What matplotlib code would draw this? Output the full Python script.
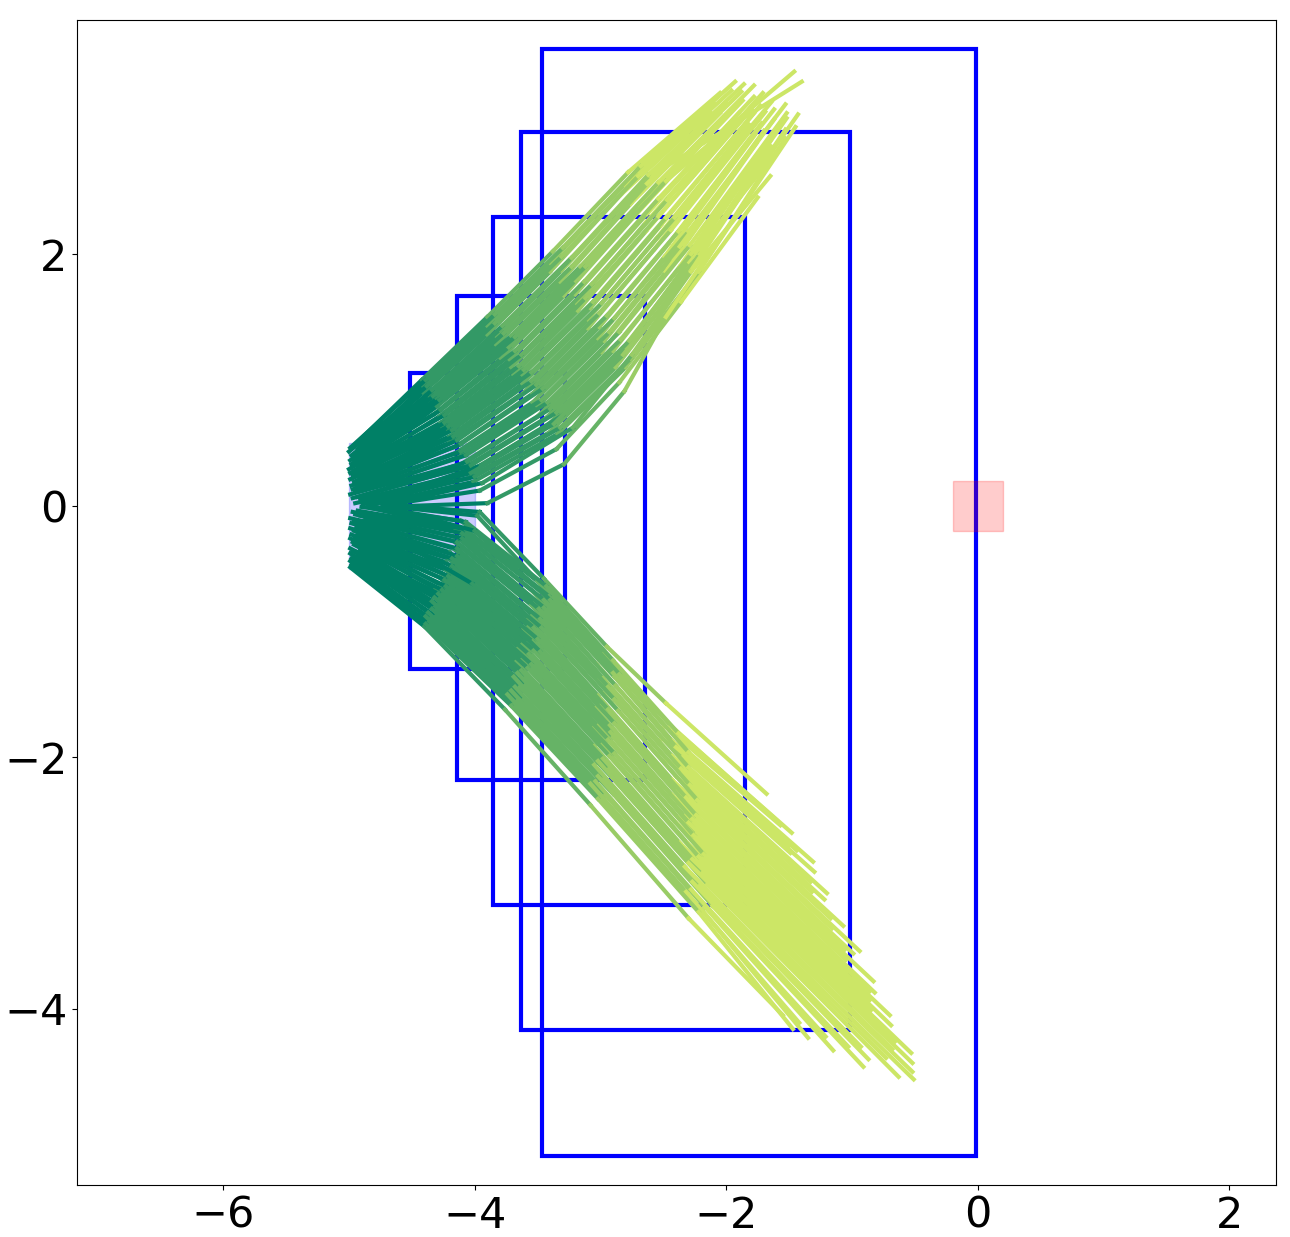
import matplotlib
matplotlib.use("Agg")
import matplotlib.pyplot as plt
from matplotlib.patches import Rectangle

# reachable-set boxes (one per step)
BOX_XMIN = [-4.515, -4.142, -3.856, -3.634, -3.467]
BOX_XMAX = [-3.283, -2.648, -1.852, -1.018, -0.017]
BOX_YMIN = [-1.296, -2.177, -3.171, -4.165, -5.166]
BOX_YMAX = [1.058, 1.670, 2.297, 2.974, 3.626]

# initial set and target
START_XY = (-5.0, -0.5)
START_WH = (1.0, 1.0)
GOAL_XY = (-0.2, -0.2)
GOAL_WH = (0.4, 0.4)

# sampled trajectories, upper branch (6 points each)
UPPER_X = [
    [-4.97, -4.42, -3.90, -3.38, -2.78, -2.05],
    [-4.99, -4.39, -3.84, -3.30, -2.68, -1.93],
    [-4.93, -4.41, -3.90, -3.40, -2.81, -2.10],
    [-5.00, -4.38, -3.84, -3.31, -2.70, -1.96],
    [-4.95, -4.41, -3.90, -3.40, -2.84, -2.13],
    [-4.90, -4.34, -3.78, -3.23, -2.62, -1.86],
    [-4.98, -4.36, -3.83, -3.31, -2.72, -2.00],
    [-4.94, -4.33, -3.77, -3.23, -2.63, -1.88],
    [-4.88, -4.36, -3.83, -3.32, -2.76, -2.05],
    [-4.99, -4.30, -3.71, -3.16, -2.54, -1.78],
    [-4.95, -4.33, -3.78, -3.27, -2.70, -1.97],
    [-4.91, -4.30, -3.73, -3.20, -2.61, -1.87],
    [-4.98, -4.32, -3.79, -3.29, -2.74, -2.04],
    [-4.97, -4.27, -3.68, -3.13, -2.54, -1.78],
    [-4.92, -4.28, -3.72, -3.20, -2.63, -1.90],
    [-5.00, -4.24, -3.63, -3.07, -2.47, -1.71],
    [-4.96, -4.27, -3.71, -3.19, -2.64, -1.92],
    [-4.90, -4.24, -3.65, -3.12, -2.54, -1.80],
    [-4.99, -4.26, -3.69, -3.18, -2.64, -1.92],
    [-4.94, -4.21, -3.61, -3.06, -2.48, -1.73],
    [-4.97, -4.21, -3.62, -3.08, -2.52, -1.78],
    [-4.91, -4.18, -3.55, -2.99, -2.41, -1.64],
    [-4.99, -4.20, -3.62, -3.10, -2.55, -1.82],
    [-4.93, -4.17, -3.55, -3.01, -2.44, -1.69],
    [-4.96, -4.20, -3.61, -3.10, -2.57, -1.86],
    [-4.89, -4.14, -3.51, -2.95, -2.38, -1.62],
    [-4.98, -4.15, -3.54, -3.01, -2.46, -1.72],
    [-4.94, -4.11, -3.46, -2.89, -2.30, -1.53],
    [-4.92, -4.15, -3.54, -3.02, -2.49, -1.77],
    [-4.97, -4.11, -3.47, -2.93, -2.37, -1.62],
    [-4.90, -4.12, -3.50, -2.97, -2.43, -1.70],
    [-4.95, -4.07, -3.42, -2.85, -2.29, -1.52],
    [-4.99, -4.11, -3.50, -2.99, -2.48, -1.76],
    [-4.88, -4.06, -3.40, -2.84, -2.28, -1.52],
    [-4.93, -4.07, -3.43, -2.90, -2.37, -1.63],
    [-4.97, -4.03, -3.35, -2.77, -2.21, -1.43],
    [-4.91, -4.06, -3.42, -2.89, -2.38, -1.65],
    [-4.86, -4.03, -3.37, -2.82, -2.28, -1.53],
    [-4.95, -4.05, -3.41, -2.88, -2.37, -1.65],
    [-4.89, -4.00, -3.32, -2.76, -2.22, -1.45],
    [-4.84, -4.01, -3.34, -2.80, -2.27, -1.53],
    [-4.73, -3.90, -3.29, -2.81, -2.48, -2.06],
    [-4.73, -3.96, -3.35, -2.85, -2.36, -1.75],
    [-4.73, -3.94, -3.22, -2.75, -2.28, -1.65],
    [-4.60, -3.95, -3.30, -2.80, -2.30, -1.58],
    [-4.96, -4.28, -3.68, -3.12, -2.48, -1.46],
    [-4.96, -4.36, -3.80, -3.25, -2.60, -1.40],
]
UPPER_Y = [
    [0.47, 1.00, 1.50, 2.02, 2.65, 3.28],
    [0.46, 1.00, 1.52, 2.05, 2.70, 3.37],
    [0.45, 0.95, 1.43, 1.93, 2.55, 3.20],
    [0.43, 0.95, 1.45, 1.98, 2.62, 3.30],
    [0.42, 0.90, 1.36, 1.86, 2.47, 3.13],
    [0.41, 0.92, 1.43, 1.97, 2.63, 3.35],
    [0.40, 0.87, 1.35, 1.87, 2.50, 3.20],
    [0.39, 0.87, 1.37, 1.90, 2.56, 3.29],
    [0.38, 0.82, 1.28, 1.78, 2.40, 3.12],
    [0.36, 0.85, 1.35, 1.90, 2.57, 3.34],
    [0.35, 0.79, 1.25, 1.76, 2.39, 3.14],
    [0.34, 0.79, 1.26, 1.79, 2.44, 3.22],
    [0.33, 0.73, 1.17, 1.67, 2.29, 3.05],
    [0.32, 0.76, 1.23, 1.78, 2.44, 3.25],
    [0.31, 0.71, 1.16, 1.68, 2.32, 3.12],
    [0.29, 0.72, 1.20, 1.76, 2.43, 3.28],
    [0.28, 0.66, 1.10, 1.61, 2.25, 3.07],
    [0.27, 0.66, 1.11, 1.65, 2.30, 3.15],
    [0.26, 0.62, 1.04, 1.55, 2.18, 3.02],
    [0.25, 0.63, 1.08, 1.62, 2.29, 3.18],
    [0.24, 0.60, 1.04, 1.57, 2.23, 3.12],
    [0.22, 0.60, 1.06, 1.61, 2.29, 3.21],
    [0.21, 0.55, 0.97, 1.48, 2.13, 3.03],
    [0.20, 0.55, 0.99, 1.53, 2.19, 3.13],
    [0.19, 0.50, 0.90, 1.41, 2.04, 2.96],
    [0.18, 0.52, 0.96, 1.51, 2.18, 3.15],
    [0.16, 0.47, 0.89, 1.42, 2.08, 3.04],
    [0.15, 0.49, 0.93, 1.49, 2.18, 3.19],
    [0.14, 0.42, 0.82, 1.33, 1.98, 2.95],
    [0.13, 0.43, 0.84, 1.38, 2.06, 3.07],
    [0.12, 0.39, 0.79, 1.31, 1.97, 2.98],
    [0.11, 0.40, 0.82, 1.38, 2.07, 3.12],
    [0.09, 0.33, 0.71, 1.22, 1.86, 2.88],
    [0.08, 0.35, 0.77, 1.32, 2.00, 3.08],
    [0.07, 0.31, 0.70, 1.23, 1.90, 2.96],
    [0.06, 0.32, 0.74, 1.31, 2.00, 3.11],
    [0.05, 0.26, 0.64, 1.16, 1.82, 2.90],
    [0.04, 0.26, 0.65, 1.20, 1.87, 2.99],
    [0.02, 0.22, 0.58, 1.10, 1.76, 2.86],
    [0.01, 0.23, 0.62, 1.17, 1.86, 3.01],
    [0.00, 0.19, 0.57, 1.10, 1.78, 2.92],
    [-0.01, 0.02, 0.33, 0.91, 1.50, 2.12],
    [0.00, 0.12, 0.45, 0.98, 1.62, 2.45],
    [0.00, 0.18, 0.62, 1.20, 1.86, 2.62],
    [0.10, 0.32, 0.72, 1.26, 1.94, 2.84],
    [0.36, 0.84, 1.34, 1.90, 2.58, 3.45],
    [0.40, 0.90, 1.40, 1.95, 2.62, 3.37],
]

# sampled trajectories, lower branch
LOWER_X = [
    [-4.85, -4.07, -3.43, -2.90, -2.38, -1.48],
    [-4.90, -4.11, -3.49, -2.99, -2.49, -1.57],
    [-4.82, -4.07, -3.41, -2.85, -2.30, -1.31],
    [-4.93, -4.11, -3.48, -2.95, -2.43, -1.44],
    [-4.97, -4.10, -3.45, -2.89, -2.34, -1.30],
    [-4.88, -4.15, -3.54, -3.03, -2.51, -1.49],
    [-4.95, -4.10, -3.45, -2.88, -2.30, -1.20],
    [-4.91, -4.14, -3.52, -2.98, -2.43, -1.33],
    [-4.99, -4.14, -3.49, -2.94, -2.36, -1.22],
    [-4.87, -4.17, -3.55, -3.02, -2.47, -1.32],
    [-4.96, -4.14, -3.48, -2.89, -2.29, -1.07],
    [-4.92, -4.17, -3.54, -2.98, -2.40, -1.17],
    [-4.98, -4.14, -3.47, -2.86, -2.23, -0.94],
    [-4.89, -4.20, -3.57, -3.02, -2.43, -1.16],
    [-4.94, -4.18, -3.53, -2.94, -2.32, -0.99],
    [-4.99, -4.21, -3.57, -3.00, -2.40, -1.06],
    [-4.91, -4.18, -3.50, -2.89, -2.24, -0.83],
    [-4.96, -4.23, -3.61, -3.04, -2.43, -1.05],
    [-4.93, -4.20, -3.54, -2.93, -2.27, -0.82],
    [-4.98, -4.23, -3.57, -2.97, -2.33, -0.86],
    [-4.90, -4.21, -3.53, -2.90, -2.23, -0.70],
    [-4.95, -4.26, -3.62, -3.02, -2.38, -0.86],
    [-4.99, -4.24, -3.57, -2.94, -2.26, -0.69],
    [-4.92, -4.28, -3.65, -3.06, -2.41, -0.85],
    [-4.97, -4.23, -3.55, -2.89, -2.18, -0.53],
    [-4.90, -4.27, -3.62, -2.99, -2.31, -0.66],
    [-4.96, -4.26, -3.58, -2.93, -2.22, -0.52],
    [-4.93, -4.31, -3.67, -3.05, -2.37, -0.68],
    [-4.99, -4.29, -3.63, -2.98, -2.27, -0.52],
    [-4.91, -4.28, -3.60, -2.93, -2.19, -0.51],
    [-4.97, -4.32, -3.66, -3.02, -2.30, -0.73],
    [-4.94, -4.29, -3.60, -2.91, -2.15, -0.63],
    [-4.99, -4.34, -3.69, -3.05, -2.33, -0.93],
    [-4.92, -4.32, -3.64, -2.97, -2.21, -0.87],
    [-4.96, -4.34, -3.68, -3.02, -2.27, -1.03],
    [-4.98, -4.31, -3.61, -2.90, -2.11, -0.91],
    [-4.93, -4.37, -3.71, -3.04, -2.28, -1.21],
    [-4.99, -4.35, -3.66, -2.96, -2.17, -1.15],
    [-4.95, -4.39, -3.74, -3.08, -2.32, -1.42],
    [-4.98, -4.37, -3.69, -2.99, -2.19, -1.35],
    [-4.97, -4.39, -3.71, -3.02, -2.22, -1.47],
    [-4.73, -3.96, -3.45, -2.95, -2.48, -1.68],
    [-4.73, -4.00, -3.40, -2.90, -2.40, -1.50],
    [-4.73, -3.98, -3.50, -2.98, -2.44, -1.60],
    [-4.60, -4.02, -3.48, -2.92, -2.30, -1.05],
    [-4.99, -4.40, -3.76, -3.08, -2.30, -1.55],
]
LOWER_Y = [
    [0.00, -0.13, -0.64, -1.23, -1.81, -2.60],
    [-0.01, -0.12, -0.61, -1.18, -1.75, -2.54],
    [-0.02, -0.19, -0.72, -1.34, -1.96, -2.83],
    [-0.04, -0.18, -0.68, -1.27, -1.87, -2.74],
    [-0.05, -0.22, -0.75, -1.36, -1.99, -2.91],
    [-0.06, -0.19, -0.68, -1.26, -1.85, -2.76],
    [-0.07, -0.26, -0.81, -1.43, -2.08, -3.08],
    [-0.08, -0.25, -0.77, -1.37, -1.99, -2.99],
    [-0.10, -0.29, -0.82, -1.44, -2.09, -3.13],
    [-0.11, -0.28, -0.79, -1.39, -2.02, -3.07],
    [-0.12, -0.34, -0.90, -1.54, -2.22, -3.34],
    [-0.13, -0.34, -0.87, -1.49, -2.15, -3.28],
    [-0.14, -0.40, -0.97, -1.63, -2.34, -3.54],
    [-0.16, -0.37, -0.90, -1.51, -2.18, -3.36],
    [-0.17, -0.42, -0.97, -1.62, -2.32, -3.56],
    [-0.18, -0.42, -0.96, -1.59, -2.27, -3.53],
    [-0.19, -0.48, -1.06, -1.73, -2.46, -3.78],
    [-0.20, -0.45, -0.98, -1.61, -2.30, -3.61],
    [-0.22, -0.51, -1.08, -1.75, -2.49, -3.87],
    [-0.23, -0.51, -1.08, -1.74, -2.47, -3.86],
    [-0.24, -0.56, -1.15, -1.84, -2.60, -4.05],
    [-0.25, -0.54, -1.10, -1.75, -2.48, -3.93],
    [-0.26, -0.59, -1.18, -1.86, -2.62, -4.13],
    [-0.28, -0.57, -1.13, -1.77, -2.51, -4.01],
    [-0.29, -0.64, -1.26, -1.97, -2.77, -4.35],
    [-0.30, -0.63, -1.22, -1.90, -2.68, -4.26],
    [-0.31, -0.67, -1.29, -1.99, -2.79, -4.43],
    [-0.32, -0.66, -1.24, -1.91, -2.68, -4.32],
    [-0.34, -0.70, -1.31, -2.01, -2.81, -4.50],
    [-0.35, -0.74, -1.37, -2.09, -2.92, -4.56],
    [-0.36, -0.73, -1.33, -2.03, -2.84, -4.39],
    [-0.37, -0.79, -1.43, -2.16, -3.01, -4.54],
    [-0.38, -0.76, -1.36, -2.06, -2.87, -4.30],
    [-0.40, -0.81, -1.44, -2.17, -3.02, -4.40],
    [-0.41, -0.82, -1.44, -2.15, -2.99, -4.30],
    [-0.42, -0.88, -1.54, -2.29, -3.18, -4.46],
    [-0.43, -0.85, -1.47, -2.19, -3.05, -4.22],
    [-0.44, -0.90, -1.55, -2.30, -3.19, -4.33],
    [-0.46, -0.88, -1.50, -2.21, -3.07, -4.11],
    [-0.47, -0.93, -1.58, -2.33, -3.22, -4.23],
    [-0.48, -0.94, -1.59, -2.33, -3.23, -4.16],
    [0.01, -0.05, -0.58, -1.12, -1.57, -2.29],
    [0.00, -0.20, -0.75, -1.33, -1.92, -2.70],
    [0.00, -0.08, -0.60, -1.18, -1.75, -2.50],
    [-0.28, -0.62, -1.16, -1.80, -2.52, -3.75],
    [-0.49, -0.96, -1.62, -2.38, -3.28, -4.05],
]

XTICKS = [-6, -4, -2, 0, 2]
YTICKS = [-4, -2, 0, 2]

fig = plt.figure(figsize=(12.9, 12.37), dpi=100)
ax = fig.add_axes([0.0599, 0.042, 0.9292, 0.9418])

# initial set
ax.add_patch(Rectangle(START_XY, *START_WH, color="blue", alpha=0.2, zorder=1))

# boxes
for x0, x1, y0, y1 in zip(BOX_XMIN, BOX_XMAX, BOX_YMIN, BOX_YMAX):
    ax.add_patch(Rectangle((x0, y0), x1 - x0, y1 - y0, fill=False,
                           edgecolor="blue", lw=3, zorder=2))

# trajectories, one colour per step; mix the draw order a bit
up_order = list(range(0, len(UPPER_X), 2)) + list(range(1, len(UPPER_X), 2))
lo_order = list(range(1, len(LOWER_X), 2)) + list(range(0, len(LOWER_X), 2))
trajs = []
for j in range(max(len(up_order), len(lo_order))):
    if j < len(up_order):
        trajs.append((UPPER_X[up_order[j]], UPPER_Y[up_order[j]]))
    if j < len(lo_order):
        trajs.append((LOWER_X[lo_order[j]], LOWER_Y[lo_order[j]]))

n_steps = len(UPPER_X[0]) - 1
for xs, ys in trajs:
    for k in range(n_steps):
        ax.plot(xs[k:k + 2], ys[k:k + 2], color=plt.cm.summer(k / n_steps),
                lw=3, zorder=3)

# target
ax.add_patch(Rectangle(GOAL_XY, *GOAL_WH, color="red", alpha=0.2, zorder=4))

ax.set_xlim(-7.16, 2.37)
ax.set_ylim(-5.40, 3.86)
ax.set_xticks(XTICKS)
ax.set_yticks(YTICKS)
ax.tick_params(labelsize=31)

fig.savefig("out.png", dpi=100)
